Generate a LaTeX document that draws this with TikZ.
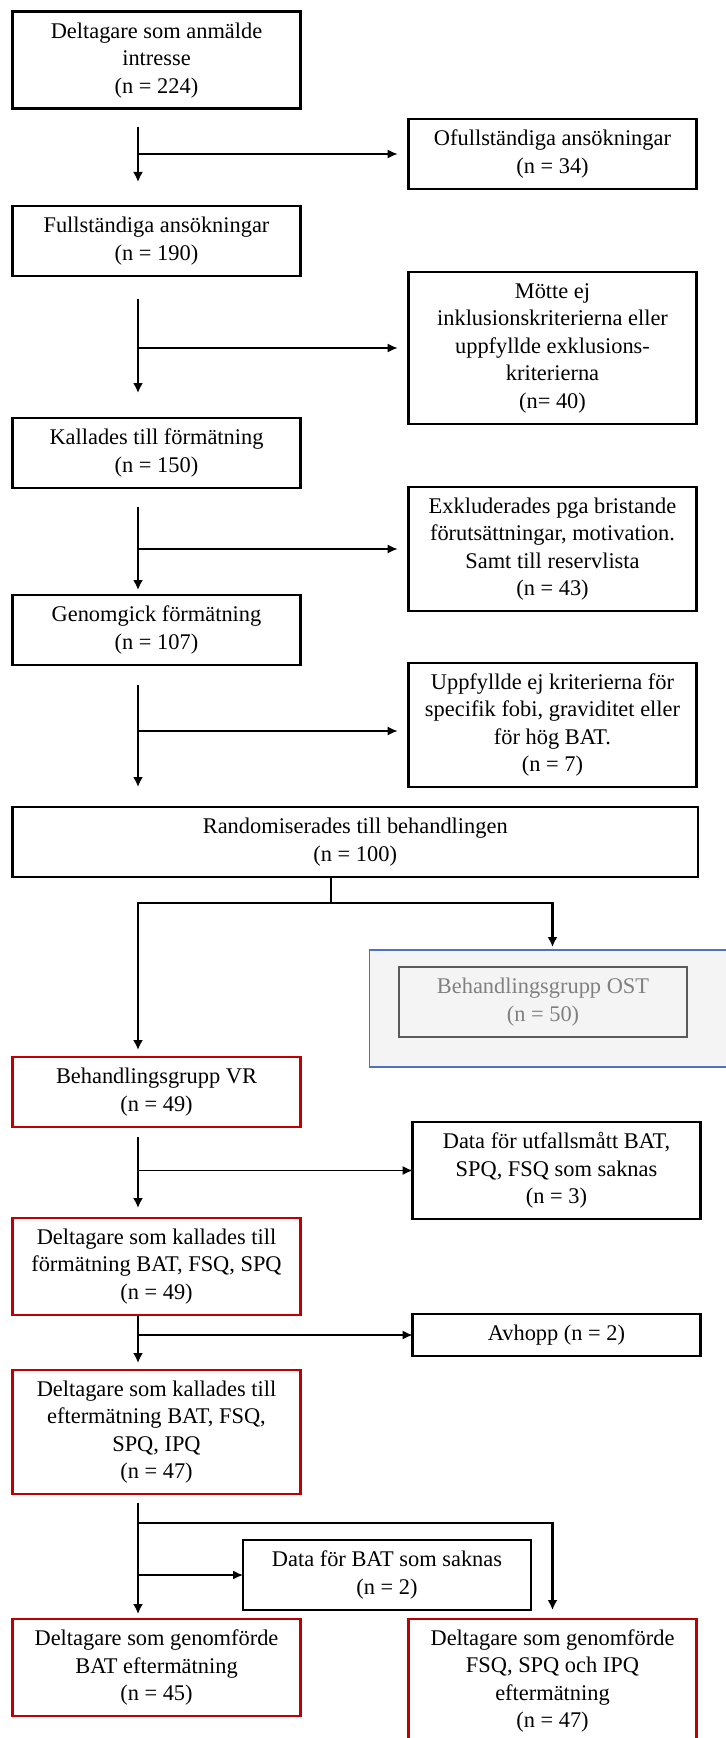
\documentclass[tikz,border=0pt]{standalone}
\usepackage{fontspec}
\setmainfont{Liberation Serif}
\usepackage{tikz}
\usetikzlibrary{positioning, arrows.meta}
\definecolor{groupred}{HTML}{C00000}
\definecolor{panelblue}{HTML}{4F72BE}
\definecolor{panelfill}{HTML}{F4F4F4}
\definecolor{ostborder}{HTML}{5A5A5A}
\definecolor{osttext}{HTML}{808080}

\begin{document}
\begin{tikzpicture}[
        every node/.style={font=\fontsize{11.2pt}{13.75pt}\selectfont},
        stage/.style={rectangle, draw=black, line width=1.3pt, outer sep=0pt, align=center, inner sep=2pt, minimum width=144pt},
        exclusion/.style={stage},
        group/.style={stage, draw=groupred},
        inactive/.style={stage, draw=ostborder, text=osttext},
        ostpanel/.style={rectangle, draw=panelblue, line width=0.6pt, outer sep=0pt, fill=panelfill, minimum width=200pt, minimum height=58.5pt},
        rows1/.style={minimum height=21pt},
        rows2/.style={minimum height=35pt},
        rows3/.style={minimum height=48.5pt},
        rows4/.style={minimum height=62pt},
        rows5/.style={minimum height=76pt},
        edge/.style={-{Latex[length=5pt, width=5pt]}, line width=1.2pt},
        sideedge/.style={-{Latex[length=5pt, width=4.5pt]}, line width=0.6pt}
    ]
        \useasboundingbox (0,0) rectangle (363pt,-869pt);
        % Screening column
        \node[stage, rows3, anchor=north west] (interest) at (6.25pt,-5.85pt) {Deltagare som anmälde\\intresse\\(n = 224)};
        \node[stage, rows2, below=48.65pt of interest] (complete) {Fullständiga ansökningar\\(n = 190)};
        \node[stage, rows2, below=71pt of complete] (invited) {Kallades till förmätning\\(n = 150)};
        \node[stage, rows2, below=53.5pt of invited] (premeasured) {Genomgick förmätning\\(n = 107)};
        \node[stage, rows2, minimum width=342.75pt, below=71pt of premeasured.south west, anchor=north west] (random) {Randomiserades till behandlingen\\(n = 100)};
        % Exclusion column
        \node[exclusion, rows2, below right=5.15pt and 54pt of interest] (incomplete) {Ofullständiga ansökningar\\(n = 34)};
        \node[exclusion, rows5, below=41.5pt of incomplete] (criteria) {Mötte ej\\inklusionskriterierna eller\\uppfyllde exklusions-\\kriterierna\\(n= 40)};
        \node[exclusion, rows4, below=31.5pt of criteria] (excluded) {Exkluderades pga bristande\\förutsättningar, motivation.\\Samt till reservlista\\(n = 43)};
        \node[exclusion, rows4, below=26pt of excluded] (notmet) {Uppfyllde ej kriterierna för\\specifik fobi, graviditet eller\\för hög BAT.\\(n = 7)};
        % OST group
        \node[ostpanel, below right=36.5pt and 178.5pt of random.south west, anchor=north west] (panel) {};
        \node[inactive, rows2, below right=8.5pt and 14.75pt of panel.north west, anchor=north west] (ost) {Behandlingsgrupp OST\\(n = 50)};
        % VR group
        \node[group, rows2, below=90pt of random.south west, anchor=north west] (vr) {Behandlingsgrupp VR\\(n = 49)};
        \node[group, rows3, below=45.5pt of vr] (vrpre) {Deltagare som kallades till\\förmätning BAT, FSQ, SPQ\\(n = 49)};
        \node[group, rows4, below=27.5pt of vrpre] (vrpost) {Deltagare som kallades till\\eftermätning BAT, FSQ,\\SPQ, IPQ\\(n = 47)};
        \node[group, rows3, below=62.5pt of vrpost] (batdone) {Deltagare som genomförde\\BAT eftermätning\\(n = 45)};
        \node[group, rows4, below right=62.5pt and 54pt of vrpost] (qdone) {Deltagare som genomförde\\FSQ, SPQ och IPQ\\eftermätning\\(n = 47)};
        \node[exclusion, rows3, below right=-2.5pt and 56pt of vr] (missing) {Data för utfallsmått BAT,\\SPQ, FSQ som saknas\\(n = 3)};
        \node[exclusion, rows1, below=47.5pt of missing] (dropout) {Avhopp (n = 2)};
        \node[exclusion, rows2, below right=23pt and 115.25pt of vrpost.south west, anchor=north west] (batmissing) {Data för BAT som saknas\\(n = 2)};
        \coordinate (spine) at (69pt,0);
        % Edges: screening
        \draw[edge, shorten <=9pt, shorten >=12pt] (interest.south -| spine) -- (complete.north -| spine);
        \draw[edge, shorten <=11.5pt, shorten >=12.5pt] (complete.south -| spine) -- (invited.north -| spine);
        \draw[edge, shorten <=9.5pt, shorten >=2.5pt] (invited.south -| spine) -- (premeasured.north -| spine);
        \draw[edge, shorten <=10pt, shorten >=10pt] (premeasured.south -| spine) -- (random.north -| spine);
        % Edges: exclusions
        \draw[sideedge, shorten >=5.5pt] (spine |- incomplete.west) -- (incomplete.west);
        \draw[sideedge, shorten >=5.5pt] (spine |- criteria.west) -- (criteria.west);
        \draw[sideedge, shorten >=5.5pt] (spine |- excluded.west) -- (excluded.west);
        \draw[sideedge, shorten >=5.5pt] ([yshift=-3pt]spine |- notmet.west) -- ([yshift=-3pt]notmet.west);
        % Edges: randomisation
        \draw[line width=1.2pt] ([xshift=-12pt]random.south) -- ++(0,-13pt) coordinate (split);
        \draw[edge, shorten >=3.5pt] (split) -| (vr.north -| spine);
        \draw[edge, shorten >=1.5pt] (split) -| (incomplete |- panel.north);
        % Edges: VR group
        \draw[edge, shorten <=5pt, shorten >=5pt] (vr.south -| spine) -- (vrpre.north -| spine);
        \draw[sideedge] (spine |- missing.west) -- (missing.west);
        \draw[edge, shorten <=0.5pt, shorten >=3.5pt] (vrpre.south -| spine) -- (vrpost.north -| spine);
        \draw[sideedge] (spine |- dropout.west) -- (dropout.west);
        \draw[edge, shorten <=4.5pt, shorten >=2.5pt] (vrpost.south -| spine) -- (batdone.north -| spine);
        \path (vrpost.south -| spine) ++(0,-14.5pt) coordinate (fork);
        \draw[edge, shorten >=4.5pt] (fork) -| (qdone.north);
        \draw[sideedge] (spine |- batmissing.west) -- (batmissing.west);
    \end{tikzpicture}
\end{document}
